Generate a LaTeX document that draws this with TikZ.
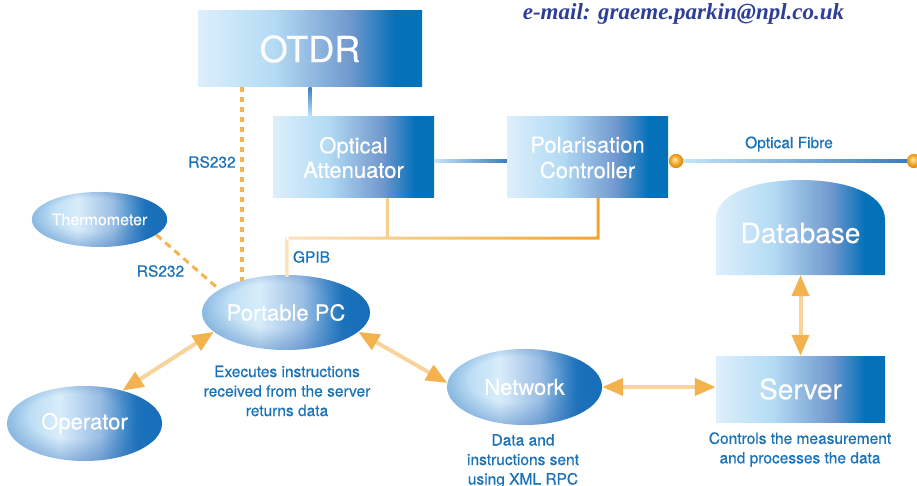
\documentclass[tikz,border=0pt]{standalone}
\usepackage{fontspec}
\setmainfont{TeX Gyre Heros}
\newfontfamily\medfont{TeX Gyre Heros}[FakeBold=0.6]
\newfontfamily\whfont{TeX Gyre Heros}[FakeBold=0.3]
\newfontfamily\mailfont{Liberation Serif}
\usetikzlibrary{shapes.geometric,arrows.meta,calc,fadings}
\definecolor{bA}{HTML}{DDEFFB}
\definecolor{bB}{HTML}{B3DBF4}
\definecolor{bC}{HTML}{7098CE}
\definecolor{bD}{HTML}{0571B9}
\definecolor{hA}{HTML}{A9D2F0}
\definecolor{hB}{HTML}{D8EDFA}
\definecolor{hC}{HTML}{9ABDE4}
\definecolor{hD}{HTML}{1873BC}
\definecolor{hE}{HTML}{0A6FBA}
\definecolor{edgeblue}{HTML}{2E6DB8}
\definecolor{fdA}{gray}{0}
\definecolor{fdB}{gray}{0.42}
\definecolor{oA}{HTML}{FDF0C8}
\definecolor{oB}{HTML}{F8C660}
\definecolor{oC}{HTML}{F0A024}
\definecolor{oD}{HTML}{E08A12}
\definecolor{lblue}{HTML}{1A72B9}
\definecolor{mailblue}{HTML}{2E3F95}
\definecolor{dashor}{HTML}{F6B44E}
\definecolor{arrshaft}{HTML}{F9D49A}
\definecolor{arrhead}{HTML}{F3B24D}
\definecolor{gpA}{HTML}{FCE3BD}
\definecolor{gpB}{HTML}{F1A52C}
\definecolor{blA}{HTML}{C5E4F8}
\definecolor{blB}{HTML}{3B7DC0}
\pgfdeclarehorizontalshading{boxsh}{100bp}{color(0bp)=(bA); color(25bp)=(bA); color(42bp)=(bB); color(59bp)=(bC); color(69bp)=(bD); color(100bp)=(bD)}
\pgfdeclarehorizontalshading{ellh}{100bp}{color(0bp)=(hA); color(25bp)=(hA); color(42bp)=(hB); color(55bp)=(hC); color(67bp)=(hD); color(75bp)=(hE); color(100bp)=(hE)}
\pgfdeclareradialshading{fadesh}{\pgfpoint{-4bp}{7bp}}{color(0bp)=(fdA); color(15bp)=(fdA); color(29bp)=(fdB); color(50bp)=(fdB)}
\pgfdeclarefading{edgefade}{\pgfuseshading{fadesh}}
\pgfdeclareradialshading{orball}{\pgfpoint{-5bp}{6bp}}{color(0bp)=(oA); color(8bp)=(oB); color(18bp)=(oC); color(25bp)=(oD); color(50bp)=(oD)}
\begin{document}
\begin{tikzpicture}[x=1pt,y=-1pt,
  box/.style={rectangle, shade, shading=boxsh, inner sep=0pt, text=white, align=center},
  ell/.style={ellipse, shade, shading=ellh, inner sep=0pt, text=white, align=center,
    postaction={fill=edgeblue, path fading=edgefade}},
  lbl/.style={text=lblue, font=\medfont\fontsize{15.5}{19.5}\selectfont, align=center, inner sep=0pt},
  ball/.style={circle, shade, shading=orball, minimum size=14pt, inner sep=0pt},
  dual/.style={line width=4pt, draw=arrshaft,
    {Triangle[length=21pt,width=17pt,color=arrhead]}-{Triangle[length=21pt,width=17pt,color=arrhead]}},
  dots/.style={draw=dashor, line width=3.5pt, dash pattern=on 5pt off 5pt}
]
\useasboundingbox (0,0) rectangle (917,486);

% boxes
\node[box, minimum width=224pt, minimum height=76pt, font=\whfont\fontsize{36}{36}\selectfont] (otdr) at (310,49) {OTDR};
\node[box, minimum width=161pt, minimum height=81pt, font=\whfont\fontsize{22}{24.5}\selectfont] (att) at (353.5,157.5) {Optical\\Attenuator};
\node[box, minimum width=161pt, minimum height=81pt, font=\whfont\fontsize{22}{25.5}\selectfont] (pol) at (587.5,157.5) {Polarisation\\Controller};
\node[box, minimum width=169pt, minimum height=66pt, font=\whfont\fontsize{28}{28}\selectfont] (srv) at (800.5,389) {Server};

% database
\shade[shading=boxsh] (716,275) -- (716,220) .. controls (716,192) and (758,180) .. (800.5,180) .. controls (843,180) and (885,192) .. (885,220) -- (885,275) -- cycle;
\node[inner sep=0pt, minimum width=169pt, minimum height=84pt, text=white, font=\whfont\fontsize{28}{28}\selectfont] (db) at (800.5,233) {Database};

% ellipses
\node[ell, minimum width=115pt, minimum height=55pt, font=\whfont\fontsize{16}{16}\selectfont] (therm) at (99.5,219.5) {Thermometer};
\node[ell, minimum width=154pt, minimum height=75pt, font=\whfont\fontsize{22}{22}\selectfont] (pc) at (286,312.5) {Portable PC};
\node[ell, minimum width=155pt, minimum height=75pt, font=\whfont\fontsize{22}{22}\selectfont] (op) at (84.5,423.5) {Operator};
\node[ell, minimum width=155pt, minimum height=76pt, font=\whfont\fontsize{22}{22}\selectfont] (net) at (524.5,387) {Network};

% blue connectors
\shade[top color=blB, bottom color=blA] ($(otdr.south)+(-1.5,0)$) rectangle ($(otdr.south |- att.north)+(1.5,0)$);
\shade[left color=blA, right color=blB] ($(att.east)+(0,2)$) rectangle ($(pol.west)+(0,5)$);
\node[ball] (f1) at (676,161) {};
\node[ball] (f2) at (914,161) {};
\shade[left color=blA, right color=blB] ($(f1.east)+(0,-1.5)$) rectangle ($(f2.west)+(0,1.5)$);
\node[ball] at (f1) {};
\node[ball] at (f2) {};

% GPIB bus
\coordinate (gp) at (287,238);
\coordinate (attd) at ($(att.south west)!0.71!(att.south east)$);
\coordinate (pold) at ($(pol.south west)!0.565!(pol.south east)$);
\shade[left color=gpA, right color=gpB]
  ($(gp |- pc.north)+(-1.5,2)$) rectangle ($(gp)+(1.5,-1.5)$)
  ($(gp)+(-1.5,-1.5)$) rectangle ($(gp -| pold)+(1.5,1.5)$)
  ($(attd)+(-1.5,0)$) rectangle ($(gp -| attd)+(1.5,0)$)
  ($(pold)+(-1.5,0)$) rectangle ($(gp -| pold)+(1.5,0)$);

% dotted RS232
\coordinate (o1) at ($(otdr.south west)!0.196!(otdr.south east)$);
\draw[dots] (o1) -- (o1 |- pc.145);
\draw[draw=dashor, line width=3pt, dash pattern=on 7pt off 5pt] (therm.-15.6) -- (pc.161);

% arrows
\draw[dual] (pc.195.7) -- (op.41.9);
\draw[dual] (pc.-15.5) -- (net.177);
\draw[dual] (net.east) -- (net.east -| srv.west);
\draw[dual] (db.south) -- (srv.north);

% labels
\node[lbl] (l1) at (212,162) {RS232};
\node[lbl] (l2) at (160.5,271) {RS232};
\node[lbl] (l3) at (311.5,257) {GPIB};
\node[lbl] (l4) at (789,144) {Optical Fibre};
\node[lbl] (l5) at (287,391) {Executes instructions\\received from the server\\returns data};
\node[lbl, anchor=north] (l6) at (523,434) {Data and\\instructions sent\\using XML RPC};
\node[lbl] (l7) at (800,449.5) {Controls the measurement\\and processes the data};
\node[anchor=base, text=mailblue, inner sep=0pt, font=\mailfont\bfseries\itshape\fontsize{23}{23}\selectfont] (mail) at (683.5,20) {e-mail: graeme.parkin@npl.co.uk};
\end{tikzpicture}
\end{document}
